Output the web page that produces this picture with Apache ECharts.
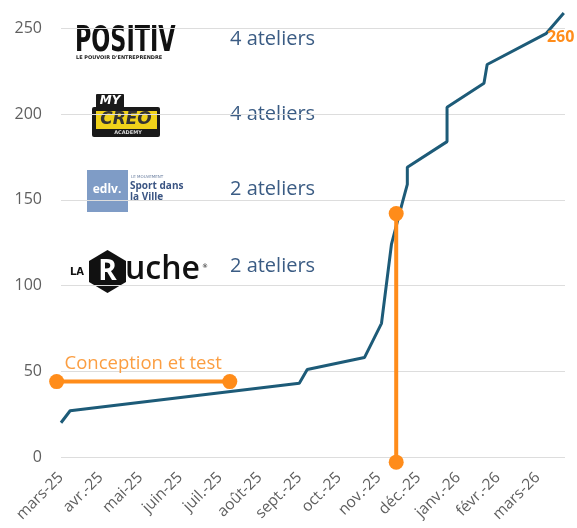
<!DOCTYPE html>
<html>
<head>
<meta charset="utf-8">
<script src="https://cdn.jsdelivr.net/npm/echarts@6/dist/echarts.min.js"></script>
<style>
  html, body { margin: 0; padding: 0; background: #fff; }
  #chart { width: 577px; height: 528px; }
</style>
</head>
<body>
<div id="chart"></div>
<script>
// mois affichés sur l'axe (x = index du mois, fractions = jours)
const months = ['mars-25', 'avr.-25', 'mai-25', 'juin-25', 'juil.-25', 'août-25', 'sept.-25',
  'oct.-25', 'nov.-25', 'déc.-25', 'janv.-26', 'févr.-26', 'mars-26'];

// cumul des jeunes accompagnés
const growthX = [0, 0.23, 6.0, 6.2, 7.64, 8.07, 8.32, 8.59, 8.72, 8.72, 9.72, 9.72, 10.65, 10.73, 12.21, 12.66];
const growthY = [20, 27, 43, 51, 58, 78, 124, 148, 159, 169, 184, 204, 218, 229, 247, 259];

// phase de conception
const conceptionX = [-0.11, 4.25];
const conceptionY = [44, 44];

// lancement
const launchX = [8.44, 8.44];
const launchY = [-3, 142];

const finalLabel = '260';

const partners = ['POSITIV', 'MY CREO', 'edlv', 'La Ruche'];
const workshops = ['4 ateliers', '4 ateliers', '2 ateliers', '2 ateliers'];

const ORANGE = '#ff8c1a';
const TEAL = '#1d5b78';

const zip = (xs, ys) => xs.map((x, i) => [x, ys[i]]);

const growthData = zip(growthX, growthY).map((p, i) => {
  if (i === growthX.length - 2) {
    return {
      value: p,
      label: {
        show: true, position: 'right', offset: [-4, 4], formatter: finalLabel,
        color: ORANGE, fontWeight: 'bold', fontSize: 16, fontFamily: 'Open Sans'
      }
    };
  }
  return p;
});

// lignes "x ateliers" à côté des logos
const workshopTops = [29, 104, 179, 256];
const workshopText = workshops.map((t, i) => ({
  type: 'text', left: 230, top: workshopTops[i],
  style: { text: t, fill: '#3b5c84', font: '20px "Open Sans"' }
}));

// logos dessinés à la main
const logos = [
  // POSITIV
  { type: 'text', x: 75, y: 24, scaleX: 0.69,
    style: { text: 'POSITIV', fill: '#111', font: '900 36px "DejaVu Sans Condensed"' } },
  { type: 'text', x: 76, y: 55,
    style: { text: "LE POUVOIR D'ENTREPRENDRE", fill: '#222', font: 'bold 5px "DejaVu Sans"' } },
  // MY CREO
  { type: 'rect', shape: { x: 96, y: 94, width: 28, height: 14, r: 1 }, style: { fill: '#1a1a1a' } },
  { type: 'rect', shape: { x: 92, y: 107, width: 68, height: 30, r: 2 }, style: { fill: '#1a1a1a' } },
  { type: 'rect', shape: { x: 96, y: 111, width: 61, height: 18 }, style: { fill: '#f0d21a' } },
  { type: 'text', x: 110, y: 101,
    style: { text: 'MY', fill: '#fff', font: 'italic bold 12px "DejaVu Sans"', align: 'center', verticalAlign: 'middle' } },
  { type: 'text', x: 126, y: 120,
    style: { text: 'CREO', fill: '#333', font: 'italic 900 17px "DejaVu Sans"', align: 'center', verticalAlign: 'middle' } },
  { type: 'text', x: 128, y: 133,
    style: { text: 'ACADEMY', fill: '#ddd', font: 'bold 5px "DejaVu Sans"', align: 'center', verticalAlign: 'middle' } },
  // edlv
  { type: 'rect', shape: { x: 87, y: 170, width: 41, height: 42 }, style: { fill: '#7f9cc6' } },
  { type: 'text', x: 107, y: 190,
    style: { text: 'edlv.', fill: '#fff', font: 'bold 12px "Open Sans"', align: 'center', verticalAlign: 'middle' } },
  { type: 'text', x: 131, y: 175,
    style: { text: 'LE MOUVEMENT', fill: '#6b7fa0', font: '4px "DejaVu Sans"' } },
  { type: 'text', x: 130, y: 181,
    style: { text: 'Sport dans\nla Ville', fill: '#3b5583', font: 'bold 10px "Open Sans"', lineHeight: 11 } },
  // La Ruche
  { type: 'text', x: 70, y: 272,
    style: { text: 'LA', fill: '#111', font: 'bold 10px "DejaVu Sans"', verticalAlign: 'middle' } },
  { type: 'polygon',
    shape: { points: [[107.5, 250], [126, 261], [126, 282], [107.5, 293], [89, 282], [89, 261]] },
    style: { fill: '#111' } },
  { type: 'text', x: 107.5, y: 272,
    style: { text: 'R', fill: '#fff', font: 'bold 28px "Open Sans"', align: 'center', verticalAlign: 'middle' } },
  { type: 'text', x: 125, y: 270,
    style: { text: 'uche', fill: '#111', font: '600 32px "Open Sans"', verticalAlign: 'middle' } },
  { type: 'text', x: 202, y: 263,
    style: { text: '®', fill: '#111', font: '6px "DejaVu Sans"' } }
];

const chart = echarts.init(document.getElementById('chart'));

chart.setOption({
  animation: false,
  grid: { left: 61, right: 12, top: 28.5, bottom: 71 },
  xAxis: {
    type: 'value',
    min: 0,
    max: 12.69,
    interval: 1,
    splitLine: { show: false },
    axisLine: { show: false },
    axisTick: { show: false },
    axisLabel: {
      rotate: 45,
      margin: 18,
      color: '#5f5f5f',
      fontSize: 15.5,
      fontFamily: 'Open Sans',
      formatter: v => months[Math.round(v)] !== undefined && Math.abs(v - Math.round(v)) < 1e-6 ? months[Math.round(v)] : ''
    }
  },
  yAxis: {
    type: 'value',
    min: 0,
    max: 250,
    interval: 50,
    axisLine: { show: false },
    axisTick: { show: false },
    splitLine: { lineStyle: { color: '#dddddd', width: 1 } },
    axisLabel: { color: '#5f5f5f', fontSize: 16, fontFamily: 'Open Sans', margin: 19 }
  },
  series: [
    {
      name: 'Cumul',
      type: 'line',
      data: growthData,
      clip: false,
      showSymbol: true,
      symbol: 'circle',
      symbolSize: 0,
      lineStyle: { color: TEAL, width: 3 },
      z: 3
    },
    {
      name: 'Conception et test',
      type: 'line',
      data: zip(conceptionX, conceptionY),
      clip: false,
      symbol: 'circle',
      symbolSize: 15,
      itemStyle: { color: ORANGE },
      lineStyle: { color: ORANGE, width: 4 },
      markPoint: {
        symbol: 'rect', symbolSize: 1,
        itemStyle: { color: 'transparent' },
        data: [{
          coord: [(conceptionX[0] + conceptionX[1]) / 2, conceptionY[0]],
          label: {
            show: true, formatter: 'Conception et test', position: 'top', offset: [0, -3],
            color: '#fb9e42', fontSize: 18.5, fontFamily: 'Open Sans'
          }
        }]
      },
      z: 4
    },
    {
      name: 'Lancement',
      type: 'line',
      data: zip(launchX, launchY),
      clip: false,
      symbol: 'circle',
      symbolSize: 15,
      itemStyle: { color: ORANGE },
      lineStyle: { color: ORANGE, width: 4 },
      z: 4
    }
  ],
  graphic: workshopText.concat(logos)
});
</script>
</body>
</html>
